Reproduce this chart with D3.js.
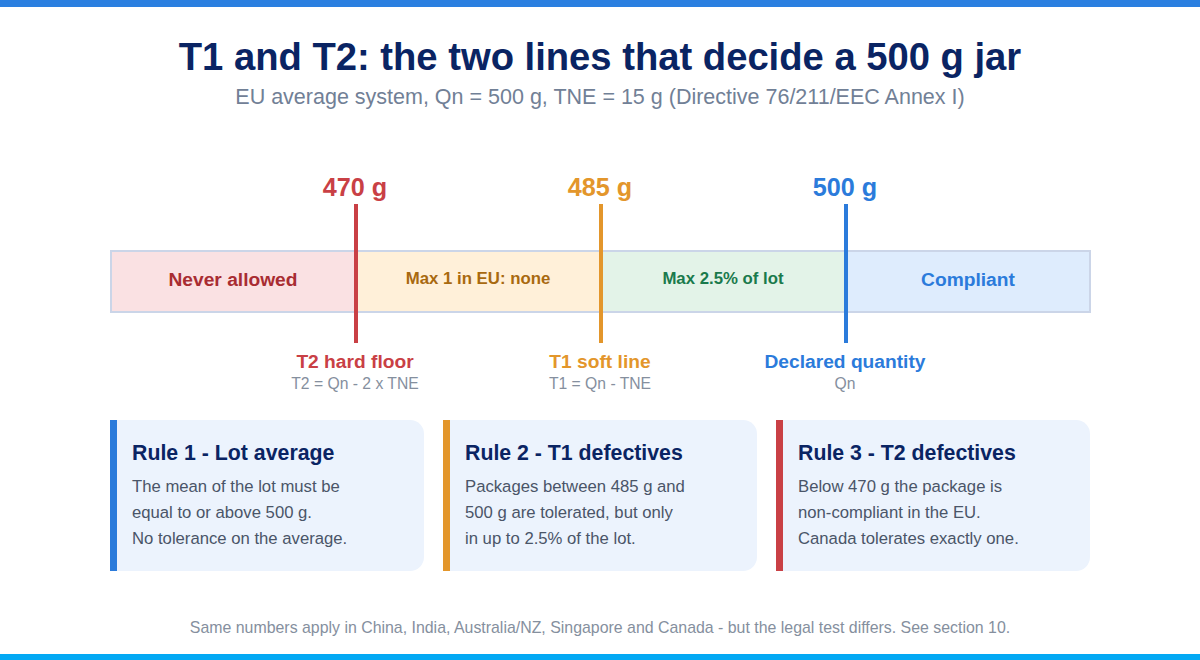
<!DOCTYPE html>
<html>
  <head>
    <meta charset="utf-8">
    <title>T1 and T2</title>
    <script src="https://d3js.org/d3.v7.min.js"></script>
    <style>
      html, body { margin: 0; padding: 0; background: #fff; }
      svg { display: block; font-family: "Liberation Sans", Arial, sans-serif; }
    </style>
  </head>
  <body>
    <script>
      // zones of the scale, in grams
      var zoneStart = [455, 470, 485, 500];
      var zoneEnd = [470, 485, 500, 515];
      var zoneLabels = ["Never allowed", "Max 1 in EU: none", "Max 2.5% of lot", "Compliant"];
      var zoneFills = ["#fae1e3", "#fff0d9", "#e3f3e8", "#deecfd"];
      var zoneTextColors = ["#a82c32", "#a8690f", "#1a7a4c", "#2b7bdb"];
      var zoneTextSizes = [19.2, 16.8, 16.8, 19.2];

      // the three limit lines
      var limits = [470, 485, 500];
      var limitLabels = ["470 g", "485 g", "500 g"];
      var limitNames = ["T2 hard floor", "T1 soft line", "Declared quantity"];
      var limitFormulas = ["T2 = Qn - 2 x TNE", "T1 = Qn - TNE", "Qn"];
      var limitColors = ["#c94045", "#e3962b", "#2b7bdb"];

      // rule cards
      var ruleTitles = ["Rule 1 - Lot average", "Rule 2 - T1 defectives", "Rule 3 - T2 defectives"];
      var ruleLines = [
        ["The mean of the lot must be", "equal to or above 500 g.", "No tolerance on the average."],
        ["Packages between 485 g and", "500 g are tolerated, but only", "in up to 2.5% of the lot."],
        ["Below 470 g the package is", "non-compliant in the EU.", "Canada tolerates exactly one."]
      ];
      var ruleColors = ["#2b7bdb", "#e3962b", "#c94045"];

      var w = 1200, h = 660;

      var svg = d3.select("body")
        .append("svg")
        .attr("width", w)
        .attr("height", h);

      // top and bottom stripes
      svg.append("rect").attr("width", w).attr("height", 7).attr("fill", "#2b7fe0");
      svg.append("rect").attr("y", 654).attr("width", w).attr("height", 6).attr("fill", "#03a9f4");

      // title
      svg.append("text")
        .attr("x", 600).attr("y", 70)
        .attr("text-anchor", "middle")
        .attr("font-size", 38.2).attr("font-weight", "bold")
        .attr("fill", "#0a2463")
        .text("T1 and T2: the two lines that decide a 500 g jar");

      svg.append("text")
        .attr("x", 600).attr("y", 104)
        .attr("text-anchor", "middle")
        .attr("font-size", 21.5)
        .attr("fill", "#718096")
        .text("EU average system, Qn = 500 g, TNE = 15 g (Directive 76/211/EEC Annex I)");

      var x = d3.scaleLinear().domain([455, 515]).range([110, 1090]);

      // zones
      var zones = svg.append("g");
      zones.selectAll("rect")
        .data(zoneLabels)
        .enter()
        .append("rect")
        .attr("x", function(d, i) { return x(zoneStart[i]) + 1; })
        .attr("y", 251)
        .attr("width", function(d, i) { return x(zoneEnd[i]) - x(zoneStart[i]); })
        .attr("height", 61)
        .attr("fill", function(d, i) { return zoneFills[i]; });

      svg.append("rect")
        .attr("x", x(455) + 1).attr("y", 251)
        .attr("width", x(515) - x(455) - 1).attr("height", 61)
        .attr("fill", "none")
        .attr("stroke", "#cbd5e8")
        .attr("stroke-width", 2);

      zones.selectAll("text")
        .data(zoneLabels)
        .enter()
        .append("text")
        .attr("x", function(d, i) { return (x(zoneStart[i]) + x(zoneEnd[i])) / 2 + 0.5; })
        .attr("y", function(d, i) { return zoneTextSizes[i] > 18 ? 286 : 284; })
        .attr("text-anchor", "middle")
        .attr("font-size", function(d, i) { return zoneTextSizes[i]; })
        .attr("font-weight", "bold")
        .attr("fill", function(d, i) { return zoneTextColors[i]; })
        .text(function(d) { return d; });

      // limit lines and labels
      var marks = svg.selectAll("g.limit")
        .data(limits)
        .enter()
        .append("g")
        .attr("class", "limit")
        .attr("transform", function(d) { return "translate(" + x(d) + ",0)"; });

      marks.append("rect")
        .attr("x", -1).attr("y", 204)
        .attr("width", 4).attr("height", 139)
        .attr("fill", function(d, i) { return limitColors[i]; });

      marks.append("text")
        .attr("y", 196)
        .attr("text-anchor", "middle")
        .attr("font-size", 25.2).attr("font-weight", "bold")
        .attr("fill", function(d, i) { return limitColors[i]; })
        .text(function(d, i) { return limitLabels[i]; });

      marks.append("text")
        .attr("y", 367.5)
        .attr("text-anchor", "middle")
        .attr("font-size", 19.2).attr("font-weight", "bold")
        .attr("fill", function(d, i) { return limitColors[i]; })
        .text(function(d, i) { return limitNames[i]; });

      marks.append("text")
        .attr("y", 389)
        .attr("text-anchor", "middle")
        .attr("font-size", 15.7)
        .attr("fill", "#858f9e")
        .text(function(d, i) { return limitFormulas[i]; });

      // cards
      var cardX = d3.scaleBand().domain(ruleTitles).range([110, 1090]).paddingInner(19 / 333);
      var cardTop = 420, cardH = 151, r = 14;

      var cards = svg.selectAll("g.card")
        .data(ruleTitles)
        .enter()
        .append("g")
        .attr("class", "card")
        .attr("transform", function(d) { return "translate(" + cardX(d) + "," + cardTop + ")"; });

      cards.append("path")
        .attr("d", function() {
          var p = d3.path(), cw = cardX.bandwidth();
          p.moveTo(0, 0);
          p.lineTo(cw - r, 0);
          p.arcTo(cw, 0, cw, r, r);
          p.lineTo(cw, cardH - r);
          p.arcTo(cw, cardH, cw - r, cardH, r);
          p.lineTo(0, cardH);
          p.closePath();
          return p.toString();
        })
        .attr("fill", "#ecf3fd");

      cards.append("rect")
        .attr("width", 7).attr("height", cardH)
        .attr("fill", function(d, i) { return ruleColors[i]; });

      cards.append("text")
        .attr("x", 22).attr("y", 40)
        .attr("font-size", 21.3).attr("font-weight", "bold")
        .attr("fill", "#0a2463")
        .text(function(d) { return d; });

      cards.each(function(d, i) {
        d3.select(this).selectAll("text.line")
          .data(ruleLines[i])
          .enter()
          .append("text")
          .attr("class", "line")
          .attr("x", 22)
          .attr("y", function(l, j) { return 72 + j * 26; })
          .attr("font-size", 16.7)
          .attr("fill", "#4a5568")
          .text(function(l) { return l; });
      });

      // footer
      svg.append("text")
        .attr("x", 600).attr("y", 633)
        .attr("text-anchor", "middle")
        .attr("font-size", 15.9)
        .attr("fill", "#858f9e")
        .text("Same numbers apply in China, India, Australia/NZ, Singapore and Canada - but the legal test differs. See section 10.");
    </script>
  </body>
</html>
